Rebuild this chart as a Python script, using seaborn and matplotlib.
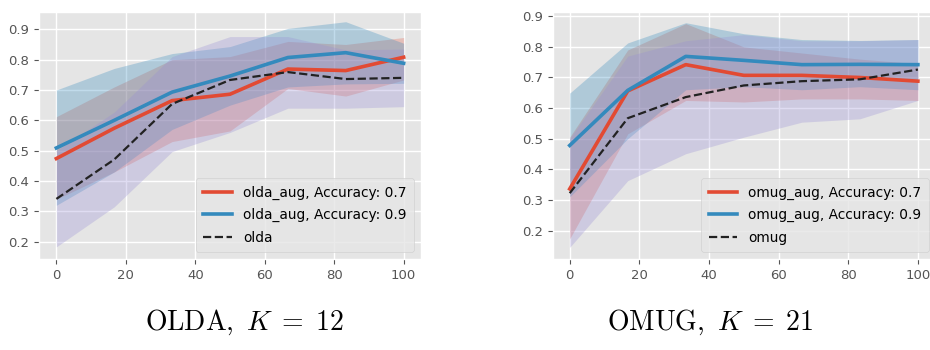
import numpy as np
import pandas as pd
import matplotlib
matplotlib.use("Agg")
import matplotlib.pyplot as plt
import seaborn as sns

# ---------------- data ----------------
x_pct = [0, 16.67, 33.33, 50, 66.67, 83.33, 100]

olda_aug07 = [0.474, 0.574, 0.665, 0.686, 0.769, 0.764, 0.808]
olda_aug07_lo = [0.34, 0.43, 0.53, 0.565, 0.705, 0.68, 0.733]
olda_aug07_hi = [0.612, 0.71, 0.80, 0.81, 0.86, 0.85, 0.873]

olda_aug09 = [0.509, 0.60, 0.693, 0.746, 0.807, 0.823, 0.788]
olda_aug09_lo = [0.32, 0.43, 0.57, 0.65, 0.71, 0.72, 0.722]
olda_aug09_hi = [0.70, 0.771, 0.82, 0.843, 0.903, 0.925, 0.854]

olda_base = [0.341, 0.471, 0.654, 0.733, 0.759, 0.736, 0.740]
olda_base_lo = [0.183, 0.315, 0.497, 0.56, 0.64, 0.64, 0.645]
olda_base_hi = [0.50, 0.627, 0.81, 0.876, 0.876, 0.832, 0.835]

omug_aug07 = [0.336, 0.656, 0.742, 0.707, 0.707, 0.700, 0.688]
omug_aug07_lo = [0.173, 0.516, 0.625, 0.62, 0.63, 0.63, 0.625]
omug_aug07_hi = [0.505, 0.79, 0.876, 0.80, 0.78, 0.76, 0.745]

omug_aug09 = [0.478, 0.658, 0.769, 0.756, 0.742, 0.743, 0.742]
omug_aug09_lo = [0.31, 0.50, 0.66, 0.67, 0.66, 0.67, 0.66]
omug_aug09_hi = [0.649, 0.813, 0.879, 0.843, 0.824, 0.821, 0.824]

omug_base = [0.322, 0.567, 0.636, 0.674, 0.688, 0.694, 0.726]
omug_base_lo = [0.145, 0.363, 0.451, 0.505, 0.554, 0.565, 0.625]
omug_base_hi = [0.50, 0.77, 0.82, 0.84, 0.82, 0.82, 0.824]

x_ticks = [0, 20, 40, 60, 80, 100]
y_ticks = [0.2, 0.3, 0.4, 0.5, 0.6, 0.7, 0.8, 0.9]

captions = [r"$\mathrm{OLDA,}\ K\;=\;12$", r"$\mathrm{OMUG,}\ K\;=\;21$"]

# ---------------- style ----------------
plt.style.use("ggplot")
plt.rcParams["mathtext.fontset"] = "cm"

RED, BLUE, PURPLE = "#E24A33", "#348ABD", "#988ED5"

fig = plt.figure(figsize=(9.3, 3.5), dpi=100)
W, H = 930, 350

def axes_px(l, t, r, b):
    return fig.add_axes([l / W, 1 - b / H, (r - l) / W, (b - t) / H])

ax1 = axes_px(39, 12, 421, 259)
ax2 = axes_px(553, 12, 936, 259)

panels = [
    (ax1, "olda",
     (olda_aug07, olda_aug07_lo, olda_aug07_hi),
     (olda_aug09, olda_aug09_lo, olda_aug09_hi),
     (olda_base, olda_base_lo, olda_base_hi),
     (-5, 105), (0.143, 0.957)),
    (ax2, "omug",
     (omug_aug07, omug_aug07_lo, omug_aug07_hi),
     (omug_aug09, omug_aug09_lo, omug_aug09_hi),
     (omug_base, omug_base_lo, omug_base_hi),
     (-4.8, 105.2), (0.107, 0.914)),
]

for ax, name, s07, s09, sb, xl, yl in panels:
    df = pd.DataFrame({"x": x_pct * 3,
                       "y": list(s07[0]) + list(s09[0]) + list(sb[0]),
                       "series": [f"{name}_aug, Accuracy: 0.7"] * 7
                                 + [f"{name}_aug, Accuracy: 0.9"] * 7
                                 + [name] * 7})
    ax.fill_between(x_pct, s07[1], s07[2], color=RED, alpha=0.25, lw=0)
    ax.fill_between(x_pct, s09[1], s09[2], color=BLUE, alpha=0.3, lw=0)
    ax.fill_between(x_pct, sb[1], sb[2], color=PURPLE, alpha=0.3, lw=0)
    sns.lineplot(data=df[df.series.str.endswith("0.7")], x="x", y="y",
                 color=RED, lw=2.6, ax=ax, label=f"{name}_aug, Accuracy: 0.7")
    sns.lineplot(data=df[df.series.str.endswith("0.9")], x="x", y="y",
                 color=BLUE, lw=2.6, ax=ax, label=f"{name}_aug, Accuracy: 0.9")
    sns.lineplot(data=df[df.series == name], x="x", y="y",
                 color="#222222", lw=1.6, ls="--", ax=ax, label=name)
    ax.set_xlim(*xl)
    ax.set_ylim(*yl)
    ax.set_xticks(x_ticks)
    ax.set_yticks(y_ticks)
    ax.set_xlabel("")
    ax.set_ylabel("")
    ax.tick_params(labelsize=9.5, colors="#555555")
    ax.grid(True, color="white", lw=1)
    ax.legend(loc="lower right", fontsize=9.9, handlelength=2.1,
              borderpad=0.55, labelspacing=0.6)

fig.text(244 / W, 1 - 322 / H, captions[0], ha="center", va="center",
         fontsize=20, color="black")
fig.text(710 / W, 1 - 322 / H, captions[1], ha="center", va="center",
         fontsize=20, color="black")

fig.savefig("out.png", dpi=100, facecolor="white")
